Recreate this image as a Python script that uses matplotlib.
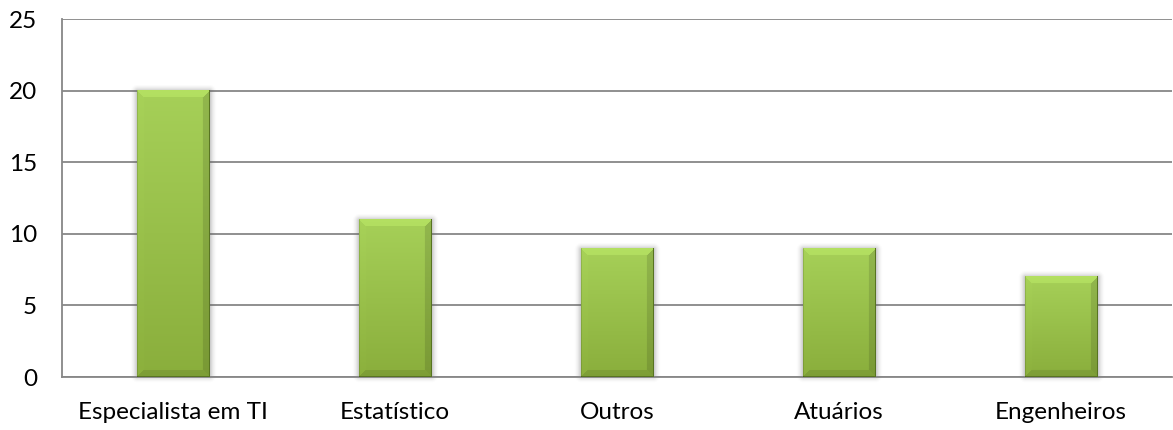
import numpy as np
import matplotlib
matplotlib.use("Agg")
import matplotlib.pyplot as plt

categories = ["Especialista em TI", "Estatístico", "Outros", "Atuários", "Engenheiros"]
values = [20, 11, 9, 9, 7]
y_ticks = [0, 5, 10, 15, 20, 25]

plt.rcParams["font.family"] = ["Lato", "DejaVu Sans"]

W, H, DPI = 1173, 430, 100
fig = plt.figure(figsize=(W / DPI, H / DPI), dpi=DPI)
ax = fig.add_axes([62 / W, (H - 377) / H, 1110 / W, 358 / H])

grid_col = "#878787"
ax.set_xlim(-0.5, len(categories) - 0.5)
ax.set_ylim(0, 25)
ax.set_yticks(y_ticks)
ax.set_xticks(range(len(categories)))
ax.set_xticklabels(categories)
ax.tick_params(axis="both", length=0, labelsize=17.5, colors="black")
ax.tick_params(axis="y", pad=18)
ax.tick_params(axis="x", pad=18)
ax.yaxis.grid(True, color=grid_col, linewidth=1.3)
ax.set_axisbelow(True)
for side in ("top", "right"):
    ax.spines[side].set_visible(False)
for side in ("left", "bottom"):
    ax.spines[side].set_color(grid_col)
    ax.spines[side].set_linewidth(1.3)

bars = ax.bar(range(len(categories)), values, width=0.325,
              color="none", edgecolor="none", zorder=3)

fig.canvas.draw()
to_px = ax.transData
inv = ax.transData.inverted()


def bevel_image(w, h, b=7):
    """RGB image of a bar with vertical gradient and 45-degree bevelled rim."""
    top = np.array([0xa6, 0xd0, 0x58]) / 255
    bot = np.array([0x8a, 0xae, 0x3c]) / 255
    t = np.linspace(0, 1, h)[:, None, None]
    img = np.broadcast_to(top * (1 - t) + bot * t, (h, w, 3)).copy()
    ii, jj = np.mgrid[0:h, 0:w]
    d_t, d_b = ii, h - 1 - ii
    d_l, d_r = jj, w - 1 - jj
    dmin = np.minimum.reduce([d_t, d_b, d_l, d_r])
    rim = dmin < b
    top_m = rim & (d_t == dmin)
    bot_m = rim & (d_b == dmin) & ~top_m
    left_m = rim & (d_l == dmin) & ~top_m & ~bot_m
    right_m = rim & (d_r == dmin) & ~top_m & ~bot_m & ~left_m
    img[top_m] = np.clip(img[top_m] * 1.05 + 0.02, 0, 1)
    img[left_m] = np.clip(img[left_m] * 1.01, 0, 1)
    img[right_m] = img[right_m] * 0.88
    img[bot_m] = img[bot_m] * 0.91
    # dark outline on right and bottom
    edge = np.array([0x58, 0x74, 0x22]) / 255
    img[:, -1] = edge
    img[-1, :] = edge
    img[:, 0] = img[:, 0] * 0.88
    return img


def shadow_image(w, h, pad=8):
    ww, hh = w + 2 * pad, h + 2 * pad
    ii, jj = np.mgrid[0:hh, 0:ww]
    dx = np.maximum(np.maximum(pad - jj, jj - (ww - 1 - pad)), 0)
    dy = np.maximum(np.maximum(pad - 2 - ii, ii - (hh - 1 - pad) + 4), 0)
    d = np.hypot(dx, dy)
    a = np.clip(1 - d / pad, 0, 1) ** 2 * 0.4
    img = np.zeros((hh, ww, 4))
    img[..., :3] = 0.35
    img[..., 3] = a
    return img


for rect in bars:
    x0, y0 = rect.get_x(), rect.get_y()
    x1, y1 = x0 + rect.get_width(), y0 + rect.get_height()
    (px0, py0), (px1, py1) = to_px.transform([(x0, y0), (x1, y1)])
    w_px, h_px = int(round(px1 - px0)), int(round(py1 - py0))
    pad = 8
    (sx0, sy0) = inv.transform((px0 - pad, py0 - pad - 3))
    (sx1, sy1) = inv.transform((px1 + pad, py1 + pad - 3))
    ax.imshow(shadow_image(w_px, h_px, pad), extent=(sx0, sx1, sy0, sy1),
              aspect="auto", interpolation="bilinear", zorder=2.5, clip_on=False)
    ax.imshow(bevel_image(w_px, h_px), extent=(x0, x1, y0, y1),
              aspect="auto", interpolation="bilinear", zorder=3)

ax.set_xlim(-0.5, len(categories) - 0.5)
ax.set_ylim(0, 25)

fig.savefig("out.png", dpi=DPI, facecolor="white")
